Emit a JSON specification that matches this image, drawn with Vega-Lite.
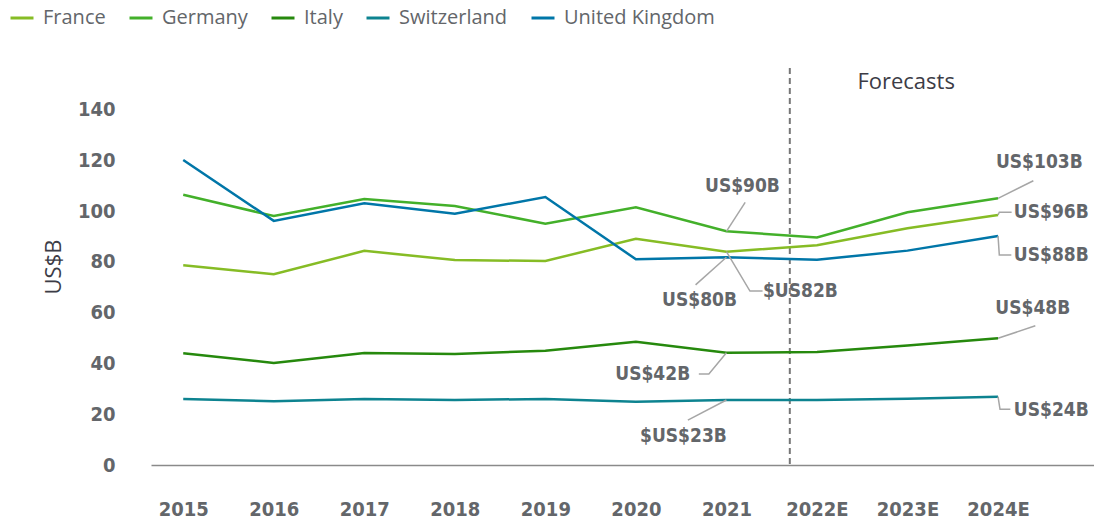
{
  "$schema": "https://vega.github.io/schema/vega-lite/v6.json",
  "autosize": {"type": "none"},
  "padding": {"left": 151, "top": 68, "right": 0, "bottom": 56},
  "width": 943,
  "height": 397,
  "background": "white",
  "config": {"view": {"stroke": null}},
  "datasets": {
    "series": [
      {"country": "France", "year": 2015, "value": 78.6},
      {"country": "France", "year": 2016, "value": 75.1},
      {"country": "France", "year": 2017, "value": 84.3},
      {"country": "France", "year": 2018, "value": 80.7},
      {"country": "France", "year": 2019, "value": 80.3},
      {"country": "France", "year": 2020, "value": 89.1},
      {"country": "France", "year": 2021, "value": 84.0},
      {"country": "France", "year": 2022, "value": 86.5},
      {"country": "France", "year": 2023, "value": 93.2},
      {"country": "France", "year": 2024, "value": 98.4},
      {"country": "Germany", "year": 2015, "value": 106.4},
      {"country": "Germany", "year": 2016, "value": 98.0},
      {"country": "Germany", "year": 2017, "value": 104.7},
      {"country": "Germany", "year": 2018, "value": 102.0},
      {"country": "Germany", "year": 2019, "value": 95.0},
      {"country": "Germany", "year": 2020, "value": 101.5},
      {"country": "Germany", "year": 2021, "value": 92.0},
      {"country": "Germany", "year": 2022, "value": 89.6},
      {"country": "Germany", "year": 2023, "value": 99.5},
      {"country": "Germany", "year": 2024, "value": 105.0},
      {"country": "Italy", "year": 2015, "value": 44.0},
      {"country": "Italy", "year": 2016, "value": 40.2},
      {"country": "Italy", "year": 2017, "value": 44.1},
      {"country": "Italy", "year": 2018, "value": 43.7},
      {"country": "Italy", "year": 2019, "value": 45.0},
      {"country": "Italy", "year": 2020, "value": 48.5},
      {"country": "Italy", "year": 2021, "value": 44.2},
      {"country": "Italy", "year": 2022, "value": 44.5},
      {"country": "Italy", "year": 2023, "value": 47.0},
      {"country": "Italy", "year": 2024, "value": 49.9},
      {"country": "Switzerland", "year": 2015, "value": 26.0},
      {"country": "Switzerland", "year": 2016, "value": 25.1},
      {"country": "Switzerland", "year": 2017, "value": 26.0},
      {"country": "Switzerland", "year": 2018, "value": 25.6},
      {"country": "Switzerland", "year": 2019, "value": 26.0},
      {"country": "Switzerland", "year": 2020, "value": 24.9},
      {"country": "Switzerland", "year": 2021, "value": 25.6},
      {"country": "Switzerland", "year": 2022, "value": 25.6},
      {"country": "Switzerland", "year": 2023, "value": 26.1},
      {"country": "Switzerland", "year": 2024, "value": 26.9},
      {"country": "United Kingdom", "year": 2015, "value": 120.1},
      {"country": "United Kingdom", "year": 2016, "value": 96.1},
      {"country": "United Kingdom", "year": 2017, "value": 103.0},
      {"country": "United Kingdom", "year": 2018, "value": 98.9},
      {"country": "United Kingdom", "year": 2019, "value": 105.5},
      {"country": "United Kingdom", "year": 2020, "value": 81.0},
      {"country": "United Kingdom", "year": 2021, "value": 81.8},
      {"country": "United Kingdom", "year": 2022, "value": 80.8},
      {"country": "United Kingdom", "year": 2023, "value": 84.4},
      {"country": "United Kingdom", "year": 2024, "value": 90.2}
    ],
    "labels": [
      {"label": "US$90B", "year": 2021.177, "value": 109.8},
      {"label": "US$103B", "year": 2024.456, "value": 119.3},
      {"label": "US$96B", "year": 2024.588, "value": 99.6},
      {"label": "US$88B", "year": 2024.588, "value": 82.7},
      {"label": "$US82B", "year": 2021.817, "value": 68.5},
      {"label": "US$80B", "year": 2020.703, "value": 65.0},
      {"label": "US$48B", "year": 2024.384, "value": 61.8},
      {"label": "US$42B", "year": 2020.186, "value": 36.0},
      {"label": "US$24B", "year": 2024.588, "value": 21.7},
      {"label": "$US$23B", "year": 2020.525, "value": 11.4}
    ],
    "leaders": [
      {"id": "a", "seq": 0, "year": 2021, "value": 92.0},
      {"id": "a", "seq": 1, "year": 2021.207, "value": 103.4},
      {"id": "b", "seq": 0, "year": 2024, "value": 105.0},
      {"id": "b", "seq": 1, "year": 2024.39, "value": 111.9},
      {"id": "c", "seq": 0, "year": 2024, "value": 98.4},
      {"id": "c", "seq": 1, "year": 2024.014, "value": 99.5},
      {"id": "c", "seq": 2, "year": 2024.15, "value": 99.5},
      {"id": "d", "seq": 0, "year": 2024, "value": 90.2},
      {"id": "d", "seq": 1, "year": 2024.014, "value": 82.7},
      {"id": "d", "seq": 2, "year": 2024.147, "value": 82.7},
      {"id": "e", "seq": 0, "year": 2021, "value": 84.0},
      {"id": "e", "seq": 1, "year": 2021.26, "value": 68.5},
      {"id": "e", "seq": 2, "year": 2021.399, "value": 68.5},
      {"id": "f", "seq": 0, "year": 2021, "value": 81.8},
      {"id": "f", "seq": 1, "year": 2020.659, "value": 70.9},
      {"id": "g", "seq": 0, "year": 2024, "value": 49.9},
      {"id": "g", "seq": 1, "year": 2024.412, "value": 54.8},
      {"id": "h", "seq": 0, "year": 2021, "value": 44.2},
      {"id": "h", "seq": 1, "year": 2020.806, "value": 35.8},
      {"id": "h", "seq": 2, "year": 2020.695, "value": 35.8},
      {"id": "i", "seq": 0, "year": 2024, "value": 26.9},
      {"id": "i", "seq": 1, "year": 2024.022, "value": 21.9},
      {"id": "i", "seq": 2, "year": 2024.136, "value": 21.9},
      {"id": "j", "seq": 0, "year": 2021, "value": 25.6},
      {"id": "j", "seq": 1, "year": 2020.574, "value": 17.7}
    ],
    "divider": [{"year": 2021.7}],
    "note": [{"text": "Forecasts", "year": 2022.985, "value": 150.8}]
  },
  "layer": [
    {
      "data": {"name": "divider"},
      "mark": {"type": "rule", "color": "#777777", "strokeWidth": 2, "strokeDash": [6, 4]},
      "encoding": {
        "x": {"field": "year", "type": "quantitative", "scale": {"domain": [2014.644, 2025.06], "nice": false, "zero": false}}
      }
    },
    {
      "data": {"name": "series"},
      "mark": {"type": "line", "strokeWidth": 2.5},
      "encoding": {
        "x": {"field": "year", "type": "quantitative",
          "scale": {"domain": [2014.644, 2025.06], "nice": false, "zero": false},
          "axis": {"title": null, "values": [2015, 2016, 2017, 2018, 2019, 2020, 2021, 2022, 2023, 2024],
            "labelExpr": "datum.value >= 2022 ? datum.value + 'E' : '' + datum.value",
            "grid": false, "ticks": false, "domainColor": "#8a8a8a", "domainWidth": 1.5,
            "labelFont": "DejaVu Sans Condensed", "labelFontWeight": "bold", "labelFontSize": 20,
            "labelColor": "#63666a", "labelPadding": 34, "labelFlush": false, "labelOverlap": false}},
        "y": {"field": "value", "type": "quantitative",
          "scale": {"domain": [0, 156.3], "nice": false},
          "axis": {"title": "US$B", "values": [0, 20, 40, 60, 80, 100, 120, 140],
            "grid": false, "ticks": false, "domain": false,
            "labelFont": "DejaVu Sans Condensed", "labelFontWeight": "bold", "labelFontSize": 20,
            "labelColor": "#63666a", "labelPadding": 36,
            "titleFont": "Open Sans", "titleFontWeight": "normal", "titleFontSize": 22,
            "titleColor": "#3c3c46", "titlePadding": 12}},
        "color": {"field": "country", "type": "nominal",
          "scale": {"domain": ["France", "Germany", "Italy", "Switzerland", "United Kingdom"],
            "range": ["#86BC25", "#43B02A", "#26890D", "#0D8390", "#0076A8"]},
          "legend": {"title": null, "orient": "none", "legendX": -142, "legendY": -63,
            "direction": "horizontal", "padding": 0, "symbolType": "stroke", "symbolSize": 529,
            "symbolStrokeWidth": 3, "labelFont": "Open Sans", "labelFontSize": 20,
            "labelColor": "#63666a", "labelOffset": 8, "columnPadding": 17}}
      }
    },
    {
      "data": {"name": "leaders"},
      "mark": {"type": "line", "color": "#a6a6a6", "strokeWidth": 1.5},
      "encoding": {
        "x": {"field": "year", "type": "quantitative"},
        "y": {"field": "value", "type": "quantitative"},
        "detail": {"field": "id", "type": "nominal"},
        "order": {"field": "seq", "type": "quantitative"}
      }
    },
    {
      "data": {"name": "labels"},
      "mark": {"type": "text", "font": "DejaVu Sans Condensed", "fontWeight": "bold", "fontSize": 19,
        "color": "#63666a", "align": "center", "baseline": "middle"},
      "encoding": {
        "x": {"field": "year", "type": "quantitative"},
        "y": {"field": "value", "type": "quantitative"},
        "text": {"field": "label", "type": "nominal"}
      }
    },
    {
      "data": {"name": "note"},
      "mark": {"type": "text", "font": "Open Sans", "fontSize": 22, "color": "#3c3c46",
        "align": "center", "baseline": "middle"},
      "encoding": {
        "x": {"field": "year", "type": "quantitative"},
        "y": {"field": "value", "type": "quantitative"},
        "text": {"field": "text", "type": "nominal"}
      }
    }
  ]
}
